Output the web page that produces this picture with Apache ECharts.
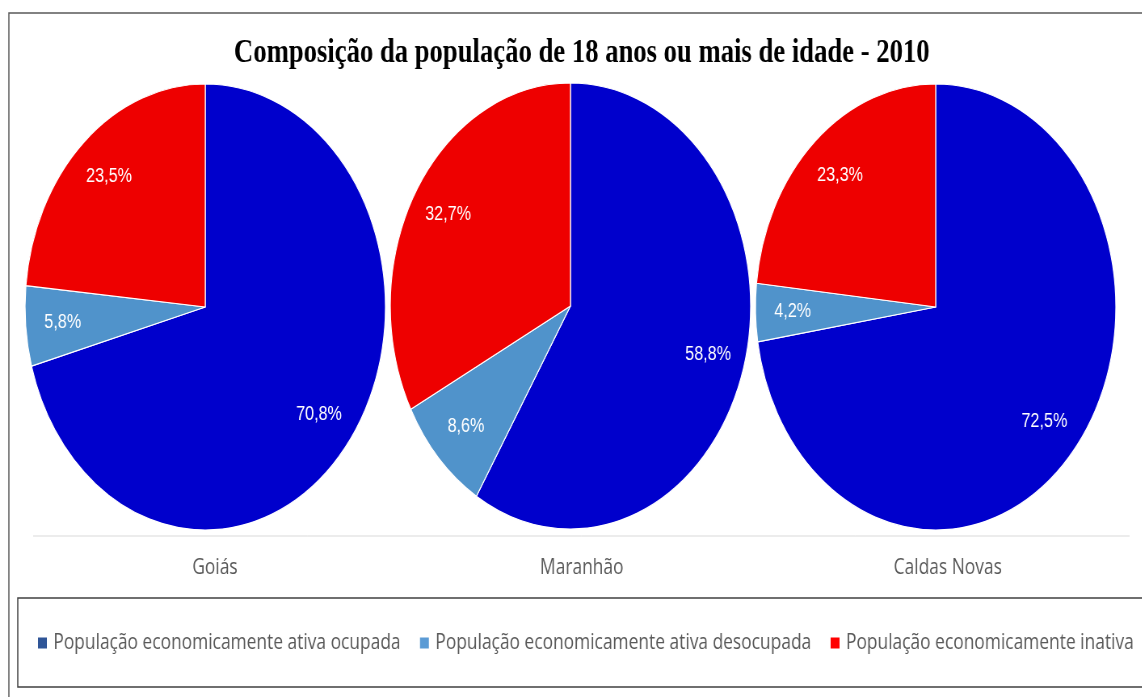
<!DOCTYPE html>
<html>
<head>
  <meta charset="utf-8">
  <title>Composição da população de 18 anos ou mais de idade - 2010</title>
  <script src="https://cdn.jsdelivr.net/npm/echarts@6/dist/echarts.min.js"></script>
  <style>
    html, body { margin: 0; padding: 0; background: #fff; overflow: hidden; }
    /* the original picture is squeezed horizontally, so draw wide and scale */
    #chart { width: 1413px; height: 697px; transform: scaleX(0.808); transform-origin: 0 0; }
  </style>
</head>
<body>
  <div id="chart"></div>

  <script>
    const regions = ['Goiás', 'Maranhão', 'Caldas Novas'];
    const groups = [
      'População economicamente ativa ocupada',
      'População economicamente ativa desocupada',
      'População economicamente inativa'
    ];
    const ocupada = [70.8, 58.8, 72.5];
    const desocupada = [5.8, 8.6, 4.2];
    const inativa = [23.5, 32.7, 23.3];

    const sliceColors = ['#0000cc', '#5093cb', '#ee0000'];
    const legendColors = ['#2f5597', '#5b9bd5', '#ff0000'];
    const centers = [[254, 307], [706, 306], [1158, 307]];
    const nameX = [261, 715, 1168];

    const series = [];
    regions.forEach((r, i) => {
      const values = [ocupada[i], desocupada[i], inativa[i]];
      // the slices
      series.push({
        type: 'pie',
        center: centers[i],
        radius: 223,
        startAngle: 90,
        label: { show: false },
        labelLine: { show: false },
        itemStyle: { borderColor: '#ffffff', borderWidth: 1.2 },
        emphasis: { disabled: true },
        data: values.map((v, k) => ({ name: groups[k], value: v, itemStyle: { color: sliceColors[k] } }))
      });
      // transparent ring only to put the labels further out
      series.push({
        type: 'pie',
        center: centers[i],
        radius: [125, 223],
        startAngle: 90,
        silent: true,
        itemStyle: { color: 'transparent' },
        labelLine: { show: false },
        label: {
          show: true,
          position: 'inside',
          formatter: p => p.value.toFixed(1).replace('.', ',') + '%',
          color: '#ffffff',
          fontFamily: 'Liberation Sans',
          fontSize: 20
        },
        data: values.map((v, k) => ({ name: groups[k], value: v }))
      });
    });

    const chart = echarts.init(document.getElementById('chart'));
    chart.setOption({
      animation: false,
      title: [
        {
          text: 'Composição da população de 18 anos ou mais de idade - 2010',
          left: 715,
          top: 32,
          textAlign: 'center',
          textStyle: { fontFamily: 'Liberation Serif', fontWeight: 'bold', fontSize: 33, color: '#000' }
        }
      ].concat(regions.map((r, i) => ({
        text: r,
        left: nameX[i],
        top: 552,
        textAlign: 'center',
        textStyle: { fontFamily: 'Open Sans', fontWeight: 'normal', fontSize: 21.5, color: '#595959' }
      }))),
      legend: {
        left: 45,
        top: 632,
        padding: 0,
        icon: 'rect',
        itemWidth: 13,
        itemHeight: 13,
        itemGap: 22,
        selectedMode: false,
        textStyle: { fontFamily: 'Open Sans', fontSize: 21.5, color: '#595959', padding: [0, 0, 0, 2] },
        data: groups.map((g, k) => ({ name: g, itemStyle: { color: legendColors[k] } }))
      },
      graphic: [
        { type: 'rect', silent: true, shape: { x: 11, y: 13, width: 1500, height: 800 },
          style: { fill: 'none', stroke: '#595959', lineWidth: 1.5 } },
        { type: 'rect', silent: true, shape: { x: 22, y: 598, width: 1500, height: 89 },
          style: { fill: 'none', stroke: '#404040', lineWidth: 1.5 } },
        { type: 'line', silent: true, shape: { x1: 41, y1: 536, x2: 1398, y2: 536 },
          style: { stroke: '#d9d9d9', lineWidth: 1 } }
      ],
      series: series
    });
  </script>
</body>
</html>
